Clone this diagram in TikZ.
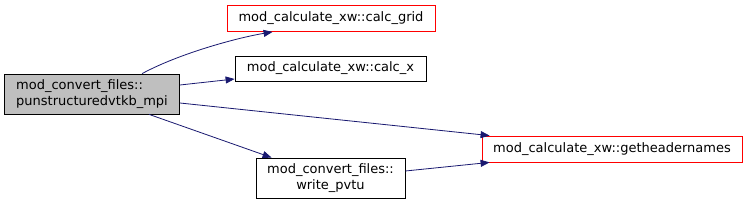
\documentclass[tikz,border=0pt]{standalone}
\usepackage{fontspec}
\setmainfont{DejaVu Sans}
\usetikzlibrary{arrows.meta,calc}
\definecolor{edgec}{HTML}{191970}
\definecolor{redb}{HTML}{FF0000}
\tikzset{
  fn/.style={draw=black, line width=0.8pt, rectangle, inner sep=0pt, align=center, font=\fontsize{13}{15.5}\selectfont},
  fnred/.style={fn, draw=redb},
  fnmain/.style={fn, fill=gray!50, align=left},
  call/.style={draw=edgec, line width=0.8pt, -{Triangle[length=9pt,width=7pt]}, fill=none},
}
\begin{document}
\begin{tikzpicture}[x=1pt,y=-1pt]
\useasboundingbox (0,0) rectangle (748,205);
\node[fnmain, minimum width=175, minimum height=40] (main) at (92,94) {mod\_convert\_files::\\punstructuredvtkb\_mpi};
\node[fnred, minimum width=208, minimum height=26] (grid) at (331,18.5) {mod\_calculate\_xw::calc\_grid};
\node[fn, minimum width=191, minimum height=25] (calcx) at (330.5,68.5) {mod\_calculate\_xw::calc\_x};
\node[fnred, minimum width=260, minimum height=26] (hdr) at (612,149) {mod\_calculate\_xw::getheadernames};
\node[fn, minimum width=149, minimum height=40] (pvtu) at (330.5,178) {mod\_convert\_files::\\write\_pvtu};

\draw[call] ($(main.north west)+(138,0)$) .. controls ($(main.north west)+(175,-20)$) and ($(grid.south west)+(10,6)$) .. ($(grid.south west)+(46,0)$);
\draw[call] ($(main.east)+(0,-9)$) -- ($(calcx.west)+(0,10.5)$);
\draw[call] ($(main.east)+(0,9)$) -- ($(hdr.north west)+(8,0)$);
\draw[call] ($(main.south west)+(145,0)$) -- ($(pvtu.north west)+(16,0)$);
\draw[call] ($(pvtu.east)+(0,-7)$) -- ($(hdr.south west)+(8,0)$);
\end{tikzpicture}
\end{document}
